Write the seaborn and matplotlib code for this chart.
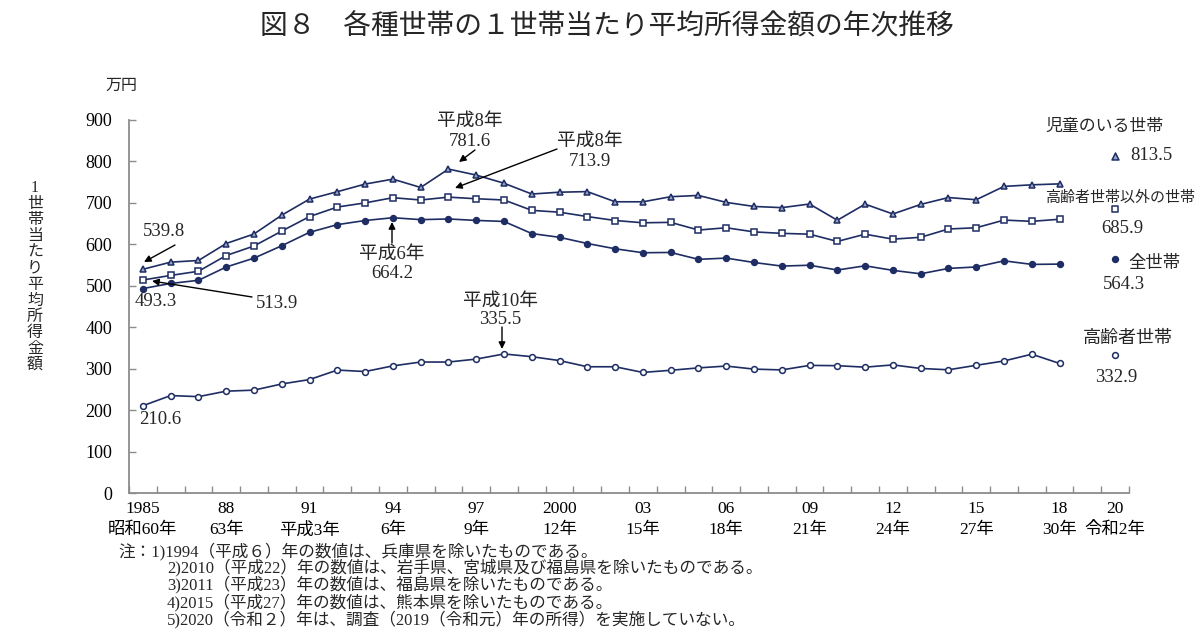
import numpy as np
import pandas as pd
import matplotlib
matplotlib.use("Agg")
import matplotlib.pyplot as plt
import seaborn as sns

# ---------------- data ----------------
years = list(range(1985, 2019))
children = [539.8, 557.0, 561.0, 602.0, 625.0, 670.4, 709.2, 727.0, 745.4, 757.3,
            737.2, 781.6, 767.1, 747.4, 721.4, 725.8, 727.2, 702.7, 702.6, 714.9,
            718.0, 701.2, 691.4, 688.5, 697.3, 658.1, 697.0, 673.2, 696.3, 712.9,
            707.6, 739.8, 743.6, 745.9]
non_elderly = [513.9, 525.0, 535.0, 573.0, 596.0, 632.0, 667.0, 690.0, 700.0, 712.5,
               707.0, 713.9, 710.0, 707.0, 682.0, 677.5, 667.0, 657.5, 652.0, 653.0,
               634.5, 640.0, 630.0, 626.5, 624.5, 607.0, 624.5, 612.5, 617.0, 637.0,
               640.0, 658.5, 655.5, 660.5]
all_hh = [493.3, 505.6, 513.2, 545.3, 566.7, 596.6, 629.0, 647.5, 657.5, 664.2,
          659.6, 661.2, 657.7, 655.2, 626.0, 616.9, 602.0, 589.3, 579.7, 580.4,
          563.8, 566.8, 556.2, 547.5, 549.6, 538.0, 548.2, 537.2, 528.9, 541.9,
          545.4, 560.2, 551.6, 552.3]
elderly = [210.6, 235.1, 232.5, 245.7, 248.2, 263.1, 273.7, 296.6, 293.1, 306.7,
           316.0, 316.0, 323.1, 335.5, 328.9, 319.5, 304.6, 304.6, 290.9, 296.1,
           301.9, 306.3, 298.9, 297.0, 307.9, 307.2, 303.6, 309.1, 300.5, 297.3,
           308.1, 318.6, 334.9, 312.6]
year_2020 = [2020]
children_2020 = [813.5]
non_elderly_2020 = [685.9]
all_hh_2020 = [564.3]
elderly_2020 = [332.9]

tick_years = [1985, 1988, 1991, 1994, 1997, 2000, 2003, 2006, 2009, 2012, 2015, 2018, 2020]
tick_labels = ["1985\n昭和60年", "88\n63年", "91\n平成3年", "94\n6年", "97\n9年",
               "2000\n12年", "03\n15年", "06\n18年", "09\n21年", "12\n24年",
               "15\n27年", "18\n30年", "20\n令和2年"]
y_ticks = [0, 100, 200, 300, 400, 500, 600, 700, 800, 900]

notes = ["2)2010（平成22）年の数値は、岩手県、宮城県及び福島県を除いたものである。",
         "3)2011（平成23）年の数値は、福島県を除いたものである。",
         "4)2015（平成27）年の数値は、熊本県を除いたものである。",
         "5)2020（令和２）年は、調査（2019（令和元）年の所得）を実施していない。"]
note1 = "注：1)1994（平成６）年の数値は、兵庫県を除いたものである。"

# ---------------- style ----------------
sns.set_theme(style="white")
plt.rcParams["font.family"] = ["Liberation Serif", "Noto Sans CJK JP", "DejaVu Sans"]

NAVY = "#1e2d63"
TRI_FILL = "#9aa5c8"
GRAY = "#8c8c8c"

W, H = 1200, 630
fig = plt.figure(figsize=(12, 6.3), dpi=100)
ax = fig.add_axes([129 / W, 1 - 493 / H, 1000 / W, 373 / H])


def F(px, py):
    return (px / W, 1 - py / H)


series = [
    (children, children_2020, "^", TRI_FILL, 5.0),
    (non_elderly, non_elderly_2020, "s", "white", 4.0),
    (all_hh, all_hh_2020, "o", NAVY, 4.2),
    (elderly, elderly_2020, "o", "white", 4.2),
]
for vals, v20, mk, fc, ms in series:
    df = pd.DataFrame({"year": years, "value": vals})
    sns.lineplot(data=df, x="year", y="value", ax=ax, color=NAVY, lw=1.2,
                 marker=mk, markersize=ms, markerfacecolor=fc,
                 markeredgecolor=NAVY, markeredgewidth=1.1)
    df20 = pd.DataFrame({"year": year_2020, "value": v20})
    sns.scatterplot(data=df20, x="year", y="value", ax=ax, marker=mk,
                    s=ms ** 2, facecolor=fc, edgecolor=NAVY, linewidth=1.1,
                    zorder=3)

ax.set_xlim(1984.5, 2020.5)
ax.set_ylim(0, 900)
ax.set_xlabel("")
ax.set_ylabel("")
ax.set_xticks(tick_years)
ax.set_xticklabels(tick_labels, fontsize=12.5, linespacing=1.4)
ax.set_xticks(np.arange(1984.5, 2021, 1), minor=True)
ax.set_yticks(y_ticks)
ax.set_yticklabels([str(v) for v in y_ticks], fontsize=13)
ax.tick_params(axis="x", which="major", length=0, pad=6, colors="black")
ax.tick_params(axis="x", which="minor", bottom=True, direction="in",
               length=5, width=1, color=GRAY)
ax.tick_params(axis="y", which="major", left=True, direction="in",
               length=5, width=1, color=GRAY, pad=12, labelcolor="black")
for s in ["top", "right"]:
    ax.spines[s].set_visible(False)
for s in ["left", "bottom"]:
    ax.spines[s].set_color(GRAY)
    ax.spines[s].set_linewidth(1.3)
ax.grid(False)

# ---------------- texts ----------------
fig.text(*F(607, 27), "図８　各種世帯の１世帯当たり平均所得金額の年次推移",
         ha="center", va="center", fontsize=20)
fig.text(*F(121, 86), "万円", ha="center", va="center", fontsize=11.5)
for i, ch in enumerate("1世帯当たり平均所得金額"):
    fig.text(*F(35, 188 + i * 16.1), ch, ha="center", va="center", fontsize=11.5)

fig.text(*F(118, 551), note1, ha="left", va="center", fontsize=12)
for i, t in enumerate(notes):
    fig.text(*F(167, 568 + i * 17.3), t, ha="left", va="center", fontsize=12)

TS = 13.5
arrow = dict(arrowstyle="-|>", color="black", lw=1.0, mutation_scale=10,
             shrinkA=0, shrinkB=0)


def label(px, py, s, size=TS, ha="center"):
    fig.text(*F(px, py), s, ha=ha, va="center", fontsize=size)


def arr(x0, y0, x1, y1):
    ax.annotate("", xy=F(x1, y1), xytext=F(x0, y0), xycoords="figure fraction",
                textcoords="figure fraction", arrowprops=arrow)


label(164, 232, "539.8")
arr(175, 245, 144, 262)
label(156, 301, "493.3")
label(277, 303, "513.9")
arr(252, 297, 152, 281)
label(160, 420, "210.6")
label(392, 254, "平成6年")
label(392, 274, "664.2")
arr(392, 243, 392, 222)
label(470, 121, "平成8年")
label(470, 141, "781.6")
arr(475, 150, 459, 162)
label(590, 141, "平成8年")
label(590, 162, "713.9")
arr(557, 149, 455, 188)
label(500, 301, "平成10年")
label(500, 320, "335.5")
arr(502, 327, 502, 349)

label(1104, 127, "児童のいる世帯", size=12.2)
label(1130, 155, "813.5", ha="left")
label(1120, 198, "高齢者世帯以外の世帯", size=10.8)
label(1122, 228, "685.9")
label(1154, 264, "全世帯", size=12.5)
label(1124, 285, "564.3")
label(1128, 338, "高齢者世帯", size=13)
label(1116, 377, "332.9")

fig.savefig("out.png", dpi=100)
